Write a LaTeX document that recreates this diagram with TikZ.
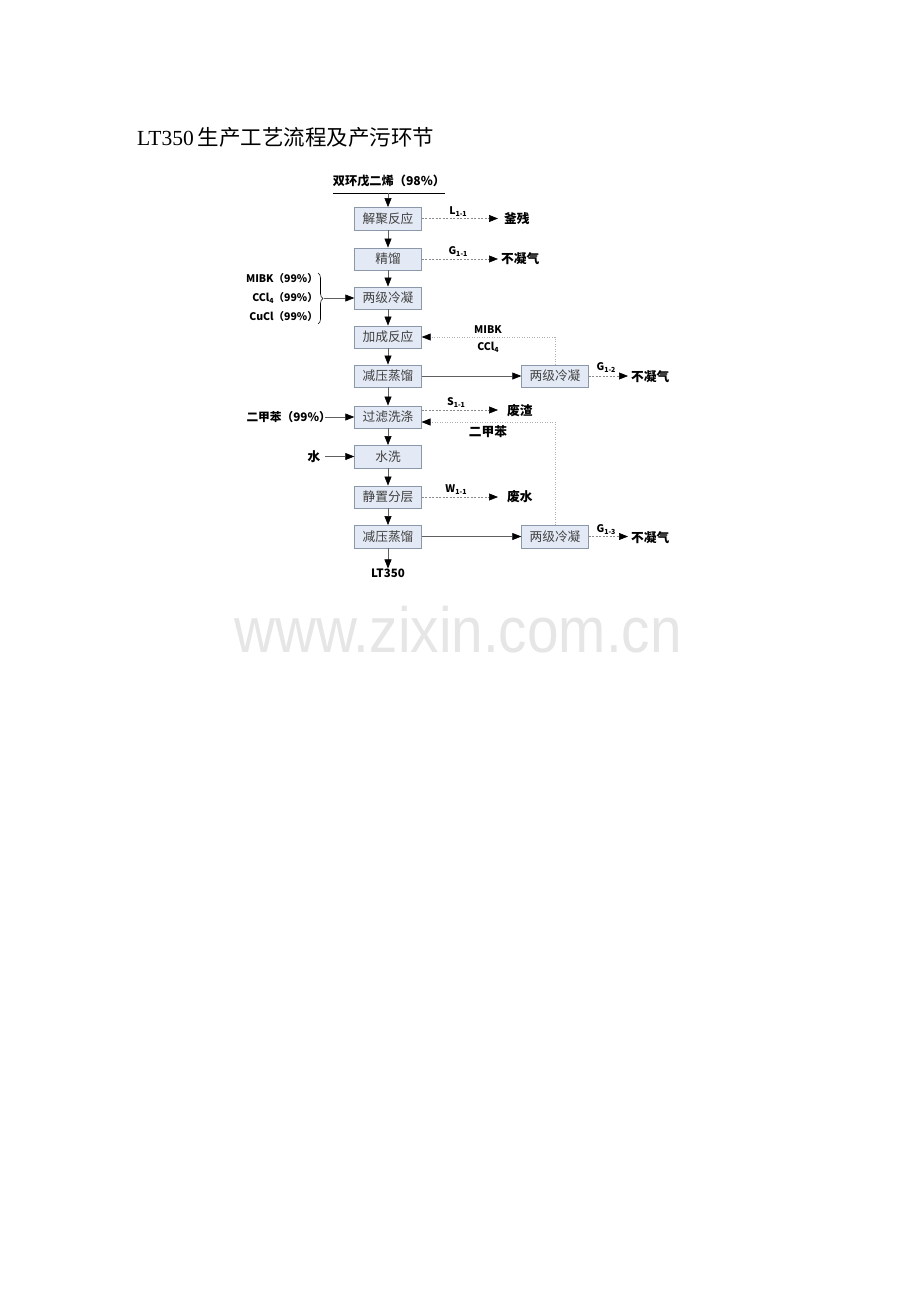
\documentclass[tikz,border=0pt]{standalone}
\usepackage{fontspec}
\setmainfont{Liberation Serif}
\newfontfamily\cjk{Noto Sans CJK SC}
\newfontfamily\wmfont[FakeStretch=0.886]{Liberation Sans}
\usetikzlibrary{arrows.meta,decorations.pathreplacing}
\definecolor{boxfill}{HTML}{E4EAF5}
\definecolor{boxedge}{HTML}{8A98AA}
\definecolor{boxtext}{HTML}{404040}
\definecolor{flowgray}{HTML}{606060}
\definecolor{dashgray}{HTML}{8A8A8A}
\definecolor{dotgray}{HTML}{B0B0B0}
\definecolor{wmgray}{HTML}{E6E6E6}
\newcommand{\lowidx}[1]{\raisebox{-2pt}{\fontsize{7}{8}\selectfont #1}}
\begin{document}
\begin{tikzpicture}[x=1pt,y=-1pt,
  box/.style={draw=boxedge, fill=boxfill, minimum width=67pt, minimum height=22.5pt, inner sep=0pt,
    font=\cjk\fontsize{12.7}{13}\selectfont, text=boxtext},
  lbl/.style={font=\cjk\bfseries\fontsize{12.7}{13}\selectfont, inner sep=0pt},
  slbl/.style={font=\cjk\bfseries\fontsize{10.5}{12}\selectfont, inner sep=0pt},
  tip/.style={-{Triangle[length=9pt,width=7pt,color=black]}},
  flow/.style={draw=flowgray, line width=0.6pt, tip},
  dsh/.style={draw=dashgray, line width=0.6pt, dash pattern=on 2pt off 1.5pt, tip},
  dot/.style={draw=dotgray, line width=0.6pt, dash pattern=on 1pt off 1.5pt, tip}]
\useasboundingbox (0,0) rectangle (920,1302);

% title
\node[anchor=west, inner sep=0pt, font=\fontsize{21.5}{24}\selectfont] (title) at (137,137) {LT350\hspace{4pt}{\cjk 生产工艺流程及产污环节}};

% watermark
\node[anchor=base, inner sep=0pt, text=wmgray, font=\wmfont\fontsize{64}{70}\selectfont] (wm) at (458,652) {www.zixin.com.cn};

% top feed
\node[lbl, font=\cjk\bfseries\fontsize{12.2}{13}\selectfont] (feed) at (389,181) {双环戊二烯（98\%）};
\coordinate (ulA) at (333,193);
\coordinate (ulB) at (445,193);
\draw[black, line width=1pt] (ulA) -- (ulB);
\coordinate (ulM) at (388,193);

% main boxes
\node[box] (b1) at (388,218.5) {解聚反应};
\node[box] (b2) at (388,259) {精馏};
\node[box] (b3) at (388,298) {两级冷凝};
\node[box] (b4) at (388,337) {加成反应};
\node[box] (b5) at (388,376) {减压蒸馏};
\node[box] (b6) at (388,417) {过滤洗涤};
\node[box] (b7) at (388,456.5) {水洗};
\node[box] (b8) at (388,497) {静置分层};
\node[box] (b9) at (388,536.5) {减压蒸馏};
\node[box] (r1) at (555,376) {两级冷凝};
\node[box] (r2) at (555,536.5) {两级冷凝};
\node[lbl, font=\cjk\bfseries\fontsize{11.5}{12}\selectfont] (prod) at (388,573) {LT350};

% main flow
\draw[flow] (ulM) -- (b1.north);
\draw[flow] (b1) -- (b2);
\draw[flow] (b2) -- (b3);
\draw[flow] (b3) -- (b4);
\draw[flow] (b4) -- (b5);
\draw[flow] (b5) -- (b6);
\draw[flow] (b6) -- (b7);
\draw[flow] (b7) -- (b8);
\draw[flow] (b8) -- (b9);
\draw[flow] (b9.south) -- (prod.north);
\draw[flow] (b5) -- (r1);
\draw[flow] (b9) -- (r2);

% right outputs
\coordinate (o1) at (498,218.5);
\node[lbl, anchor=west] (out1) at (504,219) {釜残};
\node[slbl] (L11) at (458,212) {L\lowidx{1-1}};
\draw[dsh] (b1.east) -- (o1);

\coordinate (o2) at (498,259);
\node[lbl, anchor=west] (out2) at (501,259) {不凝气};
\node[slbl] (G11) at (458,252) {G\lowidx{1-1}};
\draw[dsh] (b2.east) -- (o2);

\coordinate (o3) at (498,410);
\coordinate (b6o) at (421.5,410);
\node[lbl, anchor=west] (out3) at (507,411) {废渣};
\node[slbl] (S11) at (456,403) {S\lowidx{1-1}};
\draw[dsh] (b6o) -- (o3);

\coordinate (o4) at (498,497);
\node[lbl, anchor=west] (out4) at (507,497) {废水};
\node[slbl] (W11) at (456,490) {W\lowidx{1-1}};
\draw[dsh] (b8.east) -- (o4);

\coordinate (o5) at (628,376);
\node[lbl, anchor=west] (out5) at (631,377) {不凝气};
\node[slbl] (G12) at (606,368) {G\lowidx{1-2}};
\draw[dsh] (r1.east) -- (o5);

\coordinate (o6) at (628,536.5);
\node[lbl, anchor=west] (out6) at (631,538) {不凝气};
\node[slbl] (G13) at (606,530) {G\lowidx{1-3}};
\draw[dsh] (r2.east) -- (o6);

% recycle lines
\coordinate (c1) at (555,337);
\draw[dot] (r1.north) -- (c1) -- (b4.east);
\node[slbl] (mibk2) at (488,330) {MIBK};
\node[slbl] (ccl42) at (488,347) {CCl\lowidx{4}};

\coordinate (c2) at (555,422);
\coordinate (b6i) at (421.5,422);
\draw[dot] (r2.north) -- (c2) -- (b6i);
\node[lbl] (xyl2) at (488,432) {二甲苯};

% left inputs
\node[slbl, anchor=east] (in1) at (318,279) {MIBK（99\%）};
\node[slbl, anchor=east] (in2) at (318,298) {CCl\lowidx{4}（99\%）};
\node[slbl, anchor=east] (in3) at (318,317) {CuCl（99\%）};
\coordinate (brT) at (318,273);
\coordinate (brB) at (318,324);
\draw[black, line width=0.6pt, decorate, decoration={brace, amplitude=5pt}] (brT) -- (brB);
\coordinate (brTip) at (324,298);
\draw[flow] (brTip) -- (b3.west);

\node[lbl, anchor=east, font=\cjk\bfseries\fontsize{11.7}{13}\selectfont] (in4) at (331,417) {二甲苯（99\%）};
\coordinate (x0) at (325,417);
\draw[flow] (x0) -- (b6.west);

\node[lbl] (in5) at (314,456.5) {水};
\coordinate (w0) at (325,456.5);
\draw[flow] (w0) -- (b7.west);
\end{tikzpicture}
\end{document}
